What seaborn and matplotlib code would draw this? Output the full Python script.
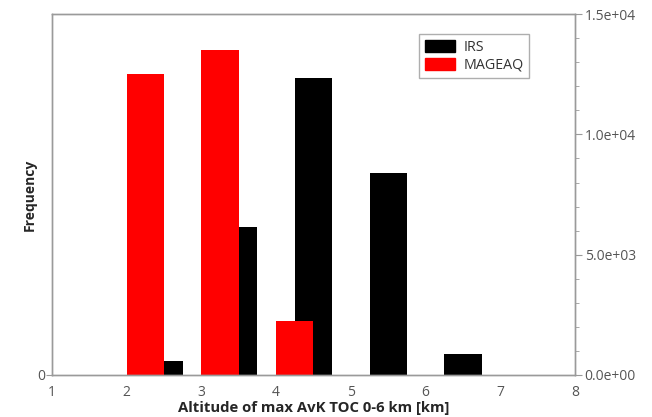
import matplotlib
matplotlib.use("Agg")
import matplotlib.pyplot as plt
import matplotlib.patches as mpatches
from matplotlib.ticker import MultipleLocator, FormatStrFormatter
import seaborn as sns
import pandas as pd

#%% data
irs_alt = [2.5, 3.5, 4.5, 5.5, 6.5]
irs_freq = [580, 6140, 12330, 8390, 870]
mageaq_alt = [2.25, 3.25, 4.25, 5.25]
mageaq_freq = [12500, 13500, 2250, 15]

df_irs = pd.DataFrame({"alt": irs_alt, "freq": irs_freq})
df_mag = pd.DataFrame({"alt": mageaq_alt, "freq": mageaq_freq})

#%% plot
sns.set_style("white")
plt.rcParams["font.family"] = ["Open Sans", "DejaVu Sans"]

grey = "#9a9a9a"
txt = "#555555"

fig = plt.figure(figsize=(6.52, 4.17), dpi=100)
ax = fig.add_axes([0.0798, 0.101, 0.802, 0.865])

# IRS first, MAGEAQ drawn on top
sns.barplot(data=df_irs, x="alt", y="freq", native_scale=True, width=0.5,
            color="black", saturation=1, linewidth=0, ax=ax)
sns.barplot(data=df_mag, x="alt", y="freq", native_scale=True, width=0.5,
            color="red", saturation=1, linewidth=0, ax=ax)

ax.set_xlim(1, 8)
ax.set_ylim(0, 15000)
ax.xaxis.set_major_locator(MultipleLocator(1))
ax.xaxis.set_minor_locator(MultipleLocator(0.2))
ax.set_yticks([0])
ax.set_yticklabels(["0"])
ax.tick_params(axis="x", which="major", direction="out", length=5, color=grey,
               labelsize=10, labelcolor=txt, pad=2)
ax.tick_params(axis="x", which="minor", direction="in", length=3, color=grey)
ax.tick_params(axis="y", which="major", direction="out", length=4, color=grey,
               labelsize=10, labelcolor=txt, pad=1)

for s in ax.spines.values():
    s.set_visible(True)
    s.set_color(grey)
    s.set_linewidth(1)

ax.set_xlabel("Altitude of max AvK TOC 0-6 km [km]", fontsize=10.7,
              fontweight="bold", labelpad=1)
ax.set_ylabel("Frequency", fontsize=10, fontweight="bold", labelpad=0)

# right axis with scientific labels
ax2 = ax.twinx()
ax2.set_ylim(0, 15000)
ax2.yaxis.set_major_locator(MultipleLocator(5000))
ax2.yaxis.set_minor_locator(MultipleLocator(1000))
ax2.yaxis.set_major_formatter(FormatStrFormatter("%.1e"))
ax2.tick_params(axis="y", which="major", direction="out", length=5, color=grey,
                labelsize=10, labelcolor=txt, pad=2)
ax2.tick_params(axis="y", which="minor", direction="out", length=3, color=grey)
for s in ax2.spines.values():
    s.set_color(grey)
    s.set_linewidth(1)

handles = [mpatches.Patch(color="black"), mpatches.Patch(color="red")]
leg = ax.legend(handles, ["IRS", "MAGEAQ"], loc="upper left",
                bbox_to_anchor=(0.688, 0.965), frameon=True, fancybox=False,
                edgecolor=grey, fontsize=10.3, handlelength=2.1, handleheight=0.9,
                borderpad=0.4, labelspacing=0.2, handletextpad=0.6)
leg.get_frame().set_linewidth(1)
for t in leg.get_texts():
    t.set_color("#333333")

fig.savefig("out.png", dpi=100)
